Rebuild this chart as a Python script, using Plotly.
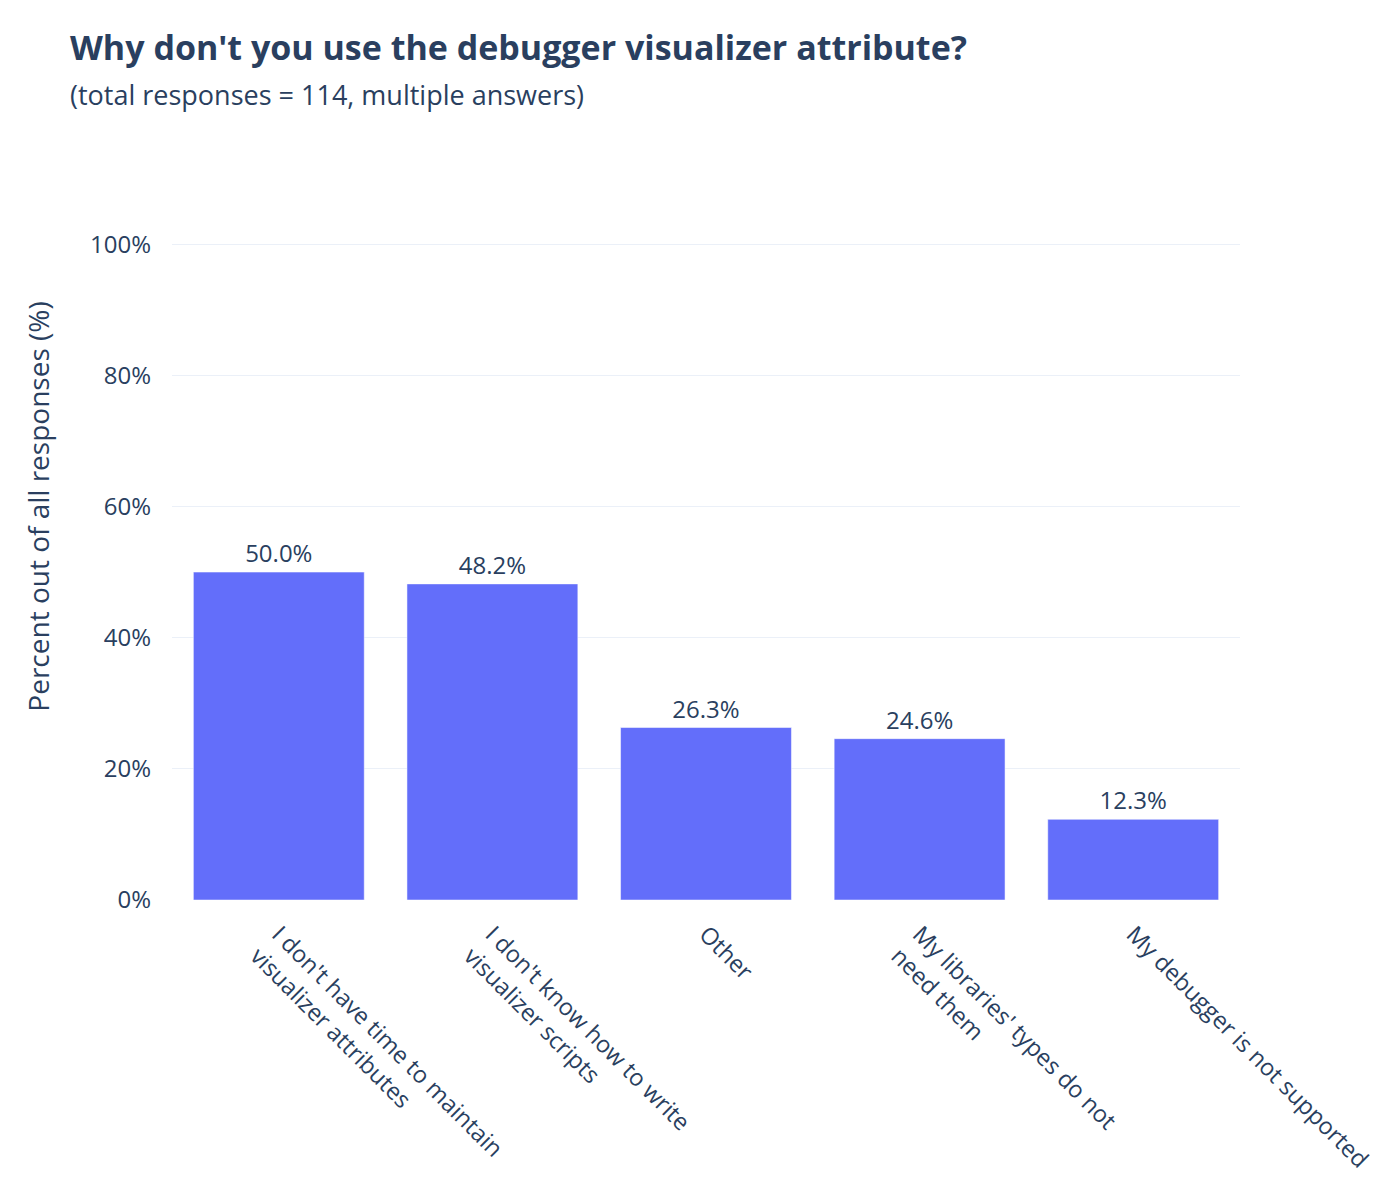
import plotly.graph_objects as go

# ===== DATA =====
answers = [
    "I don't have time to maintain<br>visualizer attributes",
    "I don't know how to write<br>visualizer scripts",
    "Other",
    "My libraries' types do not<br>need them",
    "My debugger is not supported",
]
percents = [50.0, 48.2, 26.3, 24.6, 12.3]
y_ticks = [0, 20, 40, 60, 80, 100]
y_tick_labels = ["0%", "20%", "40%", "60%", "80%", "100%"]

title_text = "<b>Why don't you use the debugger visualizer attribute?</b>"
subtitle_text = "(total responses = 114, multiple answers)"

# plot area in figure pixels: top 105, bottom 892
plot_top, plot_bottom = 105, 892

fig = go.Figure()
fig.add_trace(go.Bar(
    x=answers, y=percents,
    text=[f"{v:.1f}%" for v in percents],
    textposition="outside",
    textfont=dict(size=24),
    marker=dict(color="#636EFA"),
    cliponaxis=False,
))

fig.update_layout(
    template="plotly_white",
    width=1400, height=1200,
    font=dict(family="Open Sans", size=24, color="#2a3f5f"),
    title=dict(
        text=title_text,
        x=62 / 1400, xanchor="left", xref="container",
        y=1 - 40 / 1200, yanchor="middle", yref="container",
        font=dict(size=34),
    ),
    margin=dict(l=164, r=168, t=plot_top, b=1200 - plot_bottom),
    bargap=0.2,
    showlegend=False,
)
fig.add_annotation(
    text=subtitle_text, xref="paper", yref="paper",
    x=-(164 - 60) / 1068, y=(plot_bottom - 87) / (plot_bottom - plot_top),
    xanchor="left", yanchor="middle", showarrow=False,
    font=dict(size=27),
)
fig.update_xaxes(tickangle=45, tickfont=dict(size=23.5), automargin=False,
                 ticklabelstandoff=15)
fig.update_yaxes(
    range=[0, 120], tickvals=y_ticks, ticktext=y_tick_labels,
    title=dict(text="Percent out of all responses (%)", font=dict(size=28), standoff=32),
    tickfont=dict(size=24), automargin=False, ticklabelstandoff=20,
    zeroline=False,
)

fig.write_html("out.html")
